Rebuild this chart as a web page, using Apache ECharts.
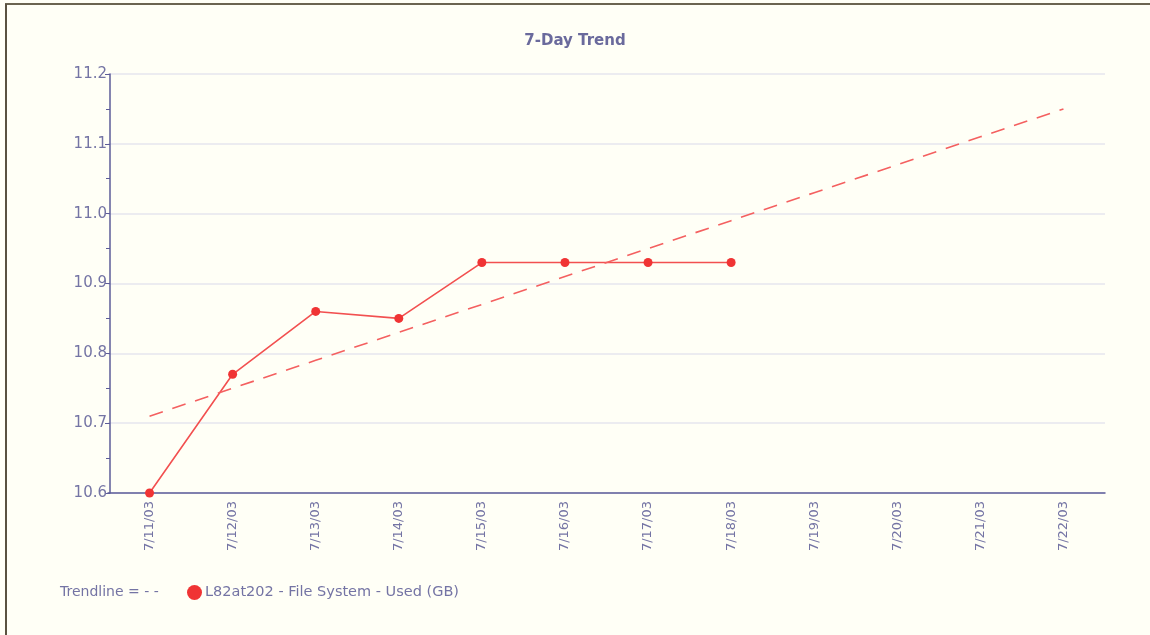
<!DOCTYPE html>
<html>
<head>
<meta charset="utf-8">
<script src="https://cdn.jsdelivr.net/npm/echarts@6/dist/echarts.min.js"></script>
<style>
html,body{margin:0;padding:0;background:#fffff6;}
#c{width:1150px;height:635px;}
</style>
</head>
<body>
<div id="c"></div>
<script>
const categories = ['7/11/03','7/12/03','7/13/03','7/14/03','7/15/03','7/16/03','7/17/03','7/18/03','7/19/03','7/20/03','7/21/03','7/22/03'];
const usedGB = [10.60, 10.77, 10.86, 10.85, 10.93, 10.93, 10.93, 10.93, null, null, null, null];
const trendline = [10.71, 10.75, 10.79, 10.83, 10.87, 10.91, 10.95, 10.99, 11.03, 11.07, 11.11, 11.15];
const seriesName = 'L82at202 - File System - Used (GB)';

const txt = '#7474a4';
const axisCol = '#5c5c98';
const FONT = 'DejaVu Sans';
const chart = echarts.init(document.getElementById('c'), null, {renderer:'canvas'});
chart.setOption({
  backgroundColor: '#fffff6',
  animation: false,
  title: {
    text: '7-Day Trend', left: 'center', top: 29,
    textStyle: {color: '#6a6a9c', fontSize: 15, fontWeight: 'bold', fontFamily: FONT}
  },
  grid: {left: 108, right: 45, top: 74, bottom: 142, containLabel: false},
  legend: {
    data: [{name: seriesName, icon: 'circle'}],
    left: 182, top: 580, itemWidth: 15, itemHeight: 15, itemGap: 4,
    textStyle: {color: txt, fontSize: 14.5, fontFamily: FONT, padding: [0, 0, 0, -2]}
  },
  graphic: [
    {type: 'text', left: 60, top: 585, style: {text: 'Trendline = - -', fill: txt, font: '14px "DejaVu Sans"'}},
    {type: 'line', shape: {x1: 5, y1: 4, x2: 1150, y2: 4}, style: {stroke: '#6b6450', lineWidth: 2}},
    {type: 'line', shape: {x1: 6, y1: 4, x2: 6, y2: 635}, style: {stroke: '#5a5240', lineWidth: 2}}
  ],
  xAxis: {
    type: 'category', data: categories, boundaryGap: true,
    axisLine: {lineStyle: {color: axisCol, width: 1.5}},
    axisTick: {alignWithLabel: true, length: 5, lineStyle: {color: axisCol}},
    axisLabel: {rotate: 90, color: txt, fontSize: 13, fontFamily: FONT, margin: 8},
    splitLine: {show: false}
  },
  yAxis: {
    type: 'value', min: 10.6, max: 11.2, interval: 0.1, offset: -2,
    axisLine: {show: true, lineStyle: {color: axisCol, width: 1.5}},
    axisTick: {show: true, length: 5, lineStyle: {color: axisCol}},
    minorTick: {show: true, splitNumber: 2, length: 4, lineStyle: {color: axisCol}},
    axisLabel: {color: txt, fontSize: 15, fontFamily: FONT, margin: 3,
      formatter: v => v.toFixed(1)},
    splitLine: {show: true, lineStyle: {color: '#e6e6ee', width: 1.5}}
  },
  series: [
    {
      name: seriesName, type: 'line', data: usedGB,
      symbol: 'circle', symbolSize: 9,
      itemStyle: {color: '#f03434'},
      lineStyle: {color: '#f25050', width: 1.6}
    },
    {
      name: 'Trendline', type: 'line', data: trendline,
      symbol: 'none',
      lineStyle: {color: '#f46060', width: 1.6, type: [14, 10]},
      itemStyle: {color: '#f46060'}
    }
  ]
});
</script>
</body>
</html>
